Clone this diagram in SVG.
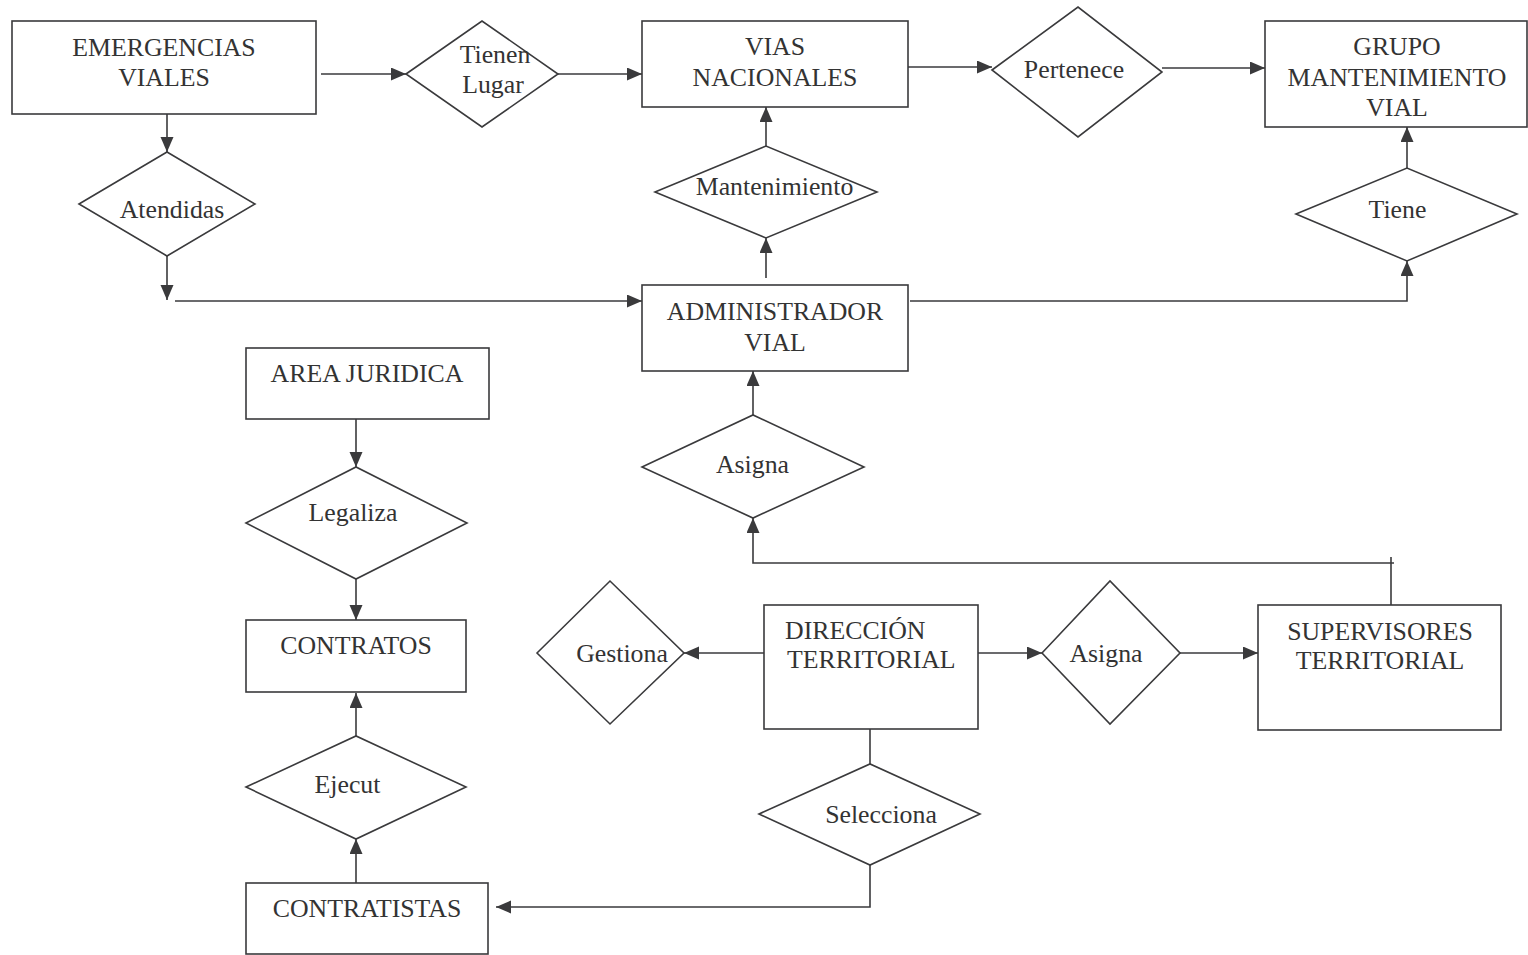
<svg xmlns="http://www.w3.org/2000/svg" width="1528" height="955" viewBox="0 0 1528 955">
<defs>
<style>
.n{fill:#fff;stroke:#3a3a3c;stroke-width:1.6}
.t{font-family:"Liberation Serif","Times New Roman",serif;font-size:25.8px;fill:#333;text-anchor:middle}
.ts{text-anchor:start}
.c line,.c polyline{fill:none;stroke:#3a3a3c;stroke-width:1.6}
</style>
<marker id="ah" markerUnits="userSpaceOnUse" markerWidth="16" markerHeight="14" refX="15" refY="6.5" orient="auto">
<path d="M0,0 L15,6.5 L0,13 z" fill="#3a3a3c"/>
</marker>
</defs>
<rect width="1528" height="955" fill="#fff"/>

<g class="c" id="connectors">
<line x1="321" y1="74" x2="406" y2="74" marker-end="url(#ah)"/>
<line x1="558" y1="74" x2="642" y2="74" marker-end="url(#ah)"/>
<line x1="903" y1="67" x2="992" y2="67" marker-end="url(#ah)"/>
<line x1="1162" y1="68" x2="1265" y2="68" marker-end="url(#ah)"/>
<line x1="167" y1="114" x2="167" y2="152" marker-end="url(#ah)"/>
<line x1="167" y1="256" x2="167" y2="300" marker-end="url(#ah)"/>
<line x1="175" y1="301" x2="642" y2="301" marker-end="url(#ah)"/>
<line x1="766" y1="278" x2="766" y2="238" marker-end="url(#ah)"/>
<line x1="766" y1="146" x2="766" y2="107" marker-end="url(#ah)"/>
<polyline points="910,301 1407,301 1407,261" marker-end="url(#ah)"/>
<line x1="1407" y1="168" x2="1407" y2="127" marker-end="url(#ah)"/>
<line x1="753" y1="415" x2="753" y2="371" marker-end="url(#ah)"/>
<line x1="1391" y1="557" x2="1391" y2="605"/>
<polyline points="1394,563 753,563 753,518" marker-end="url(#ah)"/>
<line x1="356" y1="419" x2="356" y2="467" marker-end="url(#ah)"/>
<line x1="356" y1="579" x2="356" y2="620" marker-end="url(#ah)"/>
<line x1="356" y1="736" x2="356" y2="693" marker-end="url(#ah)"/>
<line x1="356" y1="883" x2="356" y2="839" marker-end="url(#ah)"/>
<line x1="764" y1="653" x2="684" y2="653" marker-end="url(#ah)"/>
<line x1="978" y1="653" x2="1042" y2="653" marker-end="url(#ah)"/>
<line x1="1180" y1="653" x2="1258" y2="653" marker-end="url(#ah)"/>
<line x1="870" y1="729" x2="870" y2="764"/>
<polyline points="870,865 870,907 496,907" marker-end="url(#ah)"/>
</g>

<g id="emergencias">
<rect class="n" x="12" y="21" width="304" height="93"/>
<text class="t" x="164" y="56">EMERGENCIAS</text>
<text class="t" x="164" y="86">VIALES</text>
</g>
<g id="tienen">
<polygon class="n" points="406,74 482,21 558,74 482,127"/>
<text class="t" x="495" y="63">Tienen</text>
<text class="t" x="493" y="93">Lugar</text>
</g>
<g id="vias">
<rect class="n" x="642" y="21" width="266" height="86"/>
<text class="t" x="775" y="55">VIAS</text>
<text class="t" x="775" y="86">NACIONALES</text>
</g>
<g id="pertenece">
<polygon class="n" points="992,70 1078,7 1162,72 1078,137"/>
<text class="t" x="1074" y="78">Pertenece</text>
</g>
<g id="grupo">
<rect class="n" x="1265" y="21" width="262" height="106"/>
<text class="t" x="1397" y="55">GRUPO</text>
<text class="t" x="1397" y="86">MANTENIMIENTO</text>
<text class="t" x="1397" y="116">VIAL</text>
</g>
<g id="atendidas">
<polygon class="n" points="79,204 167,152 255,204 167,256"/>
<text class="t" x="172" y="218">Atendidas</text>
</g>
<g id="mantenimiento">
<polygon class="n" points="655,192 766,146 877,192 766,238"/>
<text class="t" x="774.5" y="195">Mantenimiento</text>
</g>
<g id="tiene">
<polygon class="n" points="1296,214 1407,168 1517,214 1407,261"/>
<text class="t" x="1397.5" y="218">Tiene</text>
</g>
<g id="administrador">
<rect class="n" x="642" y="285" width="266" height="86"/>
<text class="t" x="775" y="320">ADMINISTRADOR</text>
<text class="t" x="775" y="351">VIAL</text>
</g>
<g id="area-juridica">
<rect class="n" x="246" y="348" width="243" height="71"/>
<text class="t" x="367" y="382">AREA JURIDICA</text>
</g>
<g id="legaliza">
<polygon class="n" points="246,523 356,467 467,523 356,579"/>
<text class="t" x="353" y="521">Legaliza</text>
</g>
<g id="asigna-admin">
<polygon class="n" points="642,467 753,415 864,467 753,518"/>
<text class="t" x="752.5" y="473">Asigna</text>
</g>
<g id="contratos">
<rect class="n" x="246" y="620" width="220" height="72"/>
<text class="t" x="356" y="654">CONTRATOS</text>
</g>
<g id="ejecut">
<polygon class="n" points="246,787 356,736 466,787 356,839"/>
<text class="t" x="347.5" y="793">Ejecut</text>
</g>
<g id="contratistas">
<rect class="n" x="246" y="883" width="242" height="71"/>
<text class="t" x="367" y="917">CONTRATISTAS</text>
</g>
<g id="gestiona">
<polygon class="n" points="537,653 610,581 684,653 610,724"/>
<text class="t" x="622" y="662">Gestiona</text>
</g>
<g id="direccion">
<rect class="n" x="764" y="605" width="214" height="124"/>
<text class="t ts" x="785" y="639">DIRECCIÓN</text>
<text class="t ts" x="787" y="668">TERRITORIAL</text>
</g>
<g id="asigna-supervisores">
<polygon class="n" points="1042,653 1110,581 1180,653 1110,724"/>
<text class="t" x="1106" y="662">Asigna</text>
</g>
<g id="supervisores">
<rect class="n" x="1258" y="605" width="243" height="125"/>
<text class="t" x="1380" y="640">SUPERVISORES</text>
<text class="t" x="1380" y="669">TERRITORIAL</text>
</g>
<g id="selecciona">
<polygon class="n" points="759,814 870,764 980,814 870,865"/>
<text class="t" x="881" y="823">Selecciona</text>
</g>
</svg>
